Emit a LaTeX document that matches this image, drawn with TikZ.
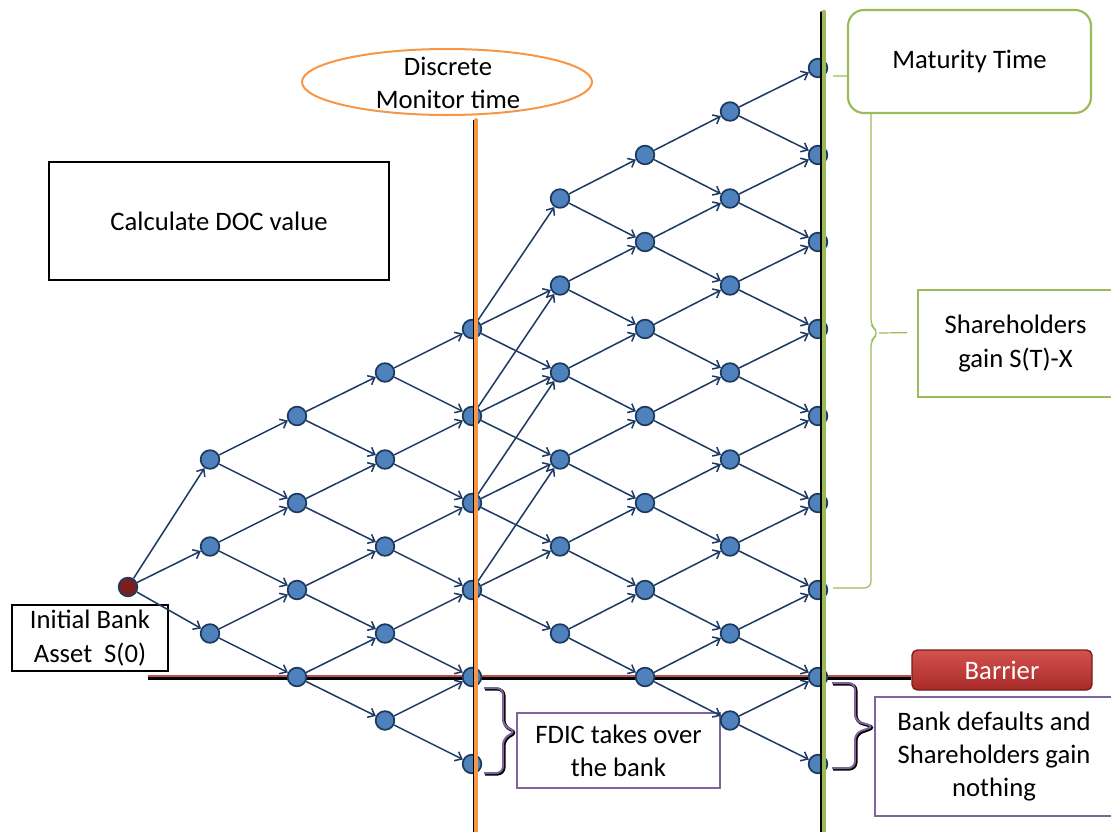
\documentclass[tikz,border=0pt]{standalone}
\usepackage{fontspec}
\setmainfont{Carlito}
\usepackage{xcolor}
\usepackage{tikz}
\usetikzlibrary{shapes, arrows.meta, positioning, calc}
\definecolor{nodeblue}{HTML}{4F81BD}
\definecolor{nodeedge}{HTML}{1C3A60}
\definecolor{arrowblue}{HTML}{1F3B64}
\definecolor{rootred}{HTML}{7B1E1E}
\definecolor{monorange}{HTML}{F79646}
\definecolor{matgreen}{HTML}{9BBB59}
\definecolor{boxpurple}{HTML}{8064A2}
\definecolor{barline}{HTML}{C0504D}
\definecolor{barhi}{HTML}{D4524E}
\definecolor{barlo}{HTML}{A82A28}
\tikzset{
    latt/.style={circle, draw=nodeedge, fill=nodeblue, line width=1.3pt, minimum size=14pt, inner sep=0pt},
    rootnode/.style={latt, fill=rootred},
    move/.style={draw=arrowblue, line width=1.15pt, ->, >={Straight Barb[length=4.5pt,width=7.5pt]}},
    txt/.style={font=\fontsize{20}{25}\selectfont, align=center, inner sep=0pt},
    plainbox/.style={txt, rectangle, draw=black, line width=1.5pt},
    purplebox/.style={txt, rectangle, draw=boxpurple, line width=1.2pt},
    greenbox/.style={txt, rectangle, draw=matgreen, line width=1.2pt, fill=white},
    pbrace/.style={draw=boxpurple, line width=1.5pt, rounded corners=5pt},
    pshadow/.style={draw=black, line width=2.2pt, rounded corners=5pt, transform canvas={xshift=.8pt, yshift=-.8pt}},
    gbrace/.style={draw=matgreen, line width=0.9pt, rounded corners=5pt}
}

\begin{document}
\begin{tikzpicture}[x=0.75pt, y=-0.75pt]
    \useasboundingbox (0,0) rectangle (1111,832);

    % Boxes
    \node [plainbox, minimum width=255pt, minimum height=88.5pt] (docbox) at (219,221) {Calculate DOC value};
    \node [plainbox, minimum width=117pt, minimum height=49.5pt] (init) at (90,638) {Initial Bank\\Asset~~S(0)};
    \node [ellipse, draw=monorange, line width=1.5pt, minimum width=217.5pt, minimum height=49.5pt] (mon) at (447,82) {};
    \node [txt] (montxt) at (448,83) {Discrete\\Monitor time};
    \node [purplebox, minimum width=152.25pt, minimum height=56.25pt] (fdic) at (618.5,750.5) {FDIC takes over\\the bank};
    \node [purplebox, minimum width=178.5pt, minimum height=89.25pt] (bank) at (994,756.5) {Bank defaults and\\Shareholders gain\\nothing};
    \node [greenbox, minimum width=146.25pt, minimum height=80.25pt] (share) at (1015.5,343.5) {Shareholders\\gain S(T)-X};
    \node [txt, rectangle, rounded corners=4pt, draw=barlo!70!black, line width=1pt, top color=barhi, bottom color=barlo,
           text=white, minimum width=135pt, minimum height=30pt] (barrier) at (1002,670) {Barrier};

    % Barrier line
    \coordinate (bstart) at (148,676);
    \draw [black, line width=2.2pt] ([yshift=-2pt]bstart) -- ([yshift=-2pt]bstart -| barrier.west);
    \draw [barline, line width=1.8pt] (bstart) -- (bstart -| barrier.west);

    % Lattice
    \node [rootnode] (root) at (128,587) {};
    \foreach \c/\x/\lo/\nx/\hi in {1/210/3/5/7, 2/297/2/4/8, 3/385/1/3/9, 4/472/0/2/10,
                                   5/560/3/5/13, 6/645/2/4/14, 7/730/1/3/15, 8/818/0/2/16} {
        \foreach \m in {\lo,\nx,...,\hi}
            \node [latt] (n\c-\m) at (\x, {764-43.5*\m}) {};
    }

    % Moves
    \foreach \m in {3,5,7}
        \draw [move] (root) -- (n1-\m);
    \foreach \c/\d/\lo/\nx/\hi in {1/2/3/5/7, 2/3/2/4/8, 3/4/1/3/9, 5/6/3/5/13, 6/7/2/4/14, 7/8/1/3/15} {
        \foreach \m in {\lo,\nx,...,\hi} {
            \pgfmathtruncatemacro\up{\m+1}
            \pgfmathtruncatemacro\dn{\m-1}
            \draw [move] (n\c-\m) -- (n\d-\up);
            \draw [move] (n\c-\m) -- (n\d-\dn);
        }
    }
    \foreach \m in {4,6,8,10} {
        \pgfmathtruncatemacro\jump{\m+3}
        \pgfmathtruncatemacro\up{\m+1}
        \pgfmathtruncatemacro\dn{\m-1}
        \draw [move] (n4-\m) -- (n5-\jump);
        \draw [move] (n4-\m) -- (n5-\up);
        \draw [move] (n4-\m) -- (n5-\dn);
    }

    % Time lines
    \coordinate (montop) at (476,120);
    \coordinate (monbot) at (476,832);
    \draw [black, line width=1pt] ([xshift=-1.8pt]montop) -- ([xshift=-1.8pt]monbot);
    \draw [monorange, line width=3pt, line cap=round] (montop) -- (monbot);
    \coordinate (mattop) at (824,12);
    \coordinate (matbot) at (824,832);
    \draw [black, line width=1.2pt, line cap=round] ([xshift=-2.2pt]mattop) -- ([xshift=-2.2pt]matbot);
    \draw [matgreen, line width=3.5pt, line cap=round] (mattop) -- (matbot);

    % Braces
    \coordinate (fdtip) at ($(fdic.north west)!.25!(fdic.south west)$);
    \coordinate (bktip) at ($(bank.north west)!.25!(bank.south west)$);
    \coordinate (shtip) at ($(share.north west)!.4!(share.south west)$);
    \draw [pshadow] (484,688) -- (503,688) -- (503,726) -- (fdtip) -- (503,738) -- (503,773) -- (484,773);
    \draw [pbrace] (484,688) -- (503,688) -- (503,726) -- (fdtip) -- (503,738) -- (503,773) -- (484,773);
    \draw [pshadow] (832,683) -- (855,683) -- (855,721) -- (bktip) -- (855,733) -- (855,768) -- (832,768);
    \draw [pbrace] (832,683) -- (855,683) -- (855,721) -- (bktip) -- (855,733) -- (855,768) -- (832,768);
    \draw [gbrace] (833,76) -- (871,76) -- (871,326) -- (879,333) -- (871,340) -- (871,588) -- (833,588);
    \draw [gbrace] (879,333) -- ([xshift=-7.5pt]shtip);

    \node [greenbox, line width=1.6pt, rounded corners=12pt, minimum width=182.25pt, minimum height=77.25pt] (matu) at (969.5,61.5) {Maturity Time};
\end{tikzpicture}
\end{document}
